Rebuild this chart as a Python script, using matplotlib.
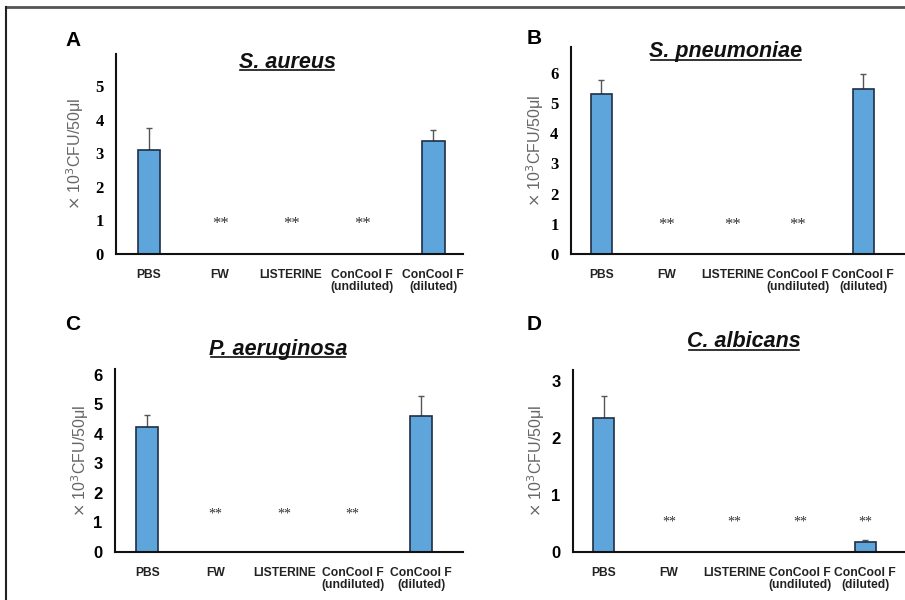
import numpy as np
import matplotlib
matplotlib.use("Agg")
import matplotlib.pyplot as plt
from matplotlib.lines import Line2D

# --- data ---
categories = ["PBS", "FW", "LISTERINE", "ConCool F\n(undiluted)", "ConCool F\n(diluted)"]

aureus_mean = [3.1, 0, 0, 0, 3.35]
aureus_err = [0.65, 0, 0, 0, 0.35]
aureus_star = [1, 2, 3]

pneumo_mean = [5.3, 0, 0, 0, 5.45]
pneumo_err = [0.45, 0, 0, 0, 0.5]
pneumo_star = [1, 2, 3]

aerug_mean = [4.25, 0, 0, 0, 4.6]
aerug_err = [0.4, 0, 0, 0, 0.7]
aerug_star = [1, 2, 3]

albic_mean = [2.36, 0, 0, 0, 0.17]
albic_err = [0.38, 0, 0, 0, 0.04]
albic_star = [1, 2, 3, 4]

W, H = 905, 600
BAR = "#5DA5DA"
EDGE = "#1F2F45"

fig = plt.figure(figsize=(W / 100, H / 100), dpi=100)


def px_axes(left, top, right, bottom):
    return fig.add_axes([left / W, 1 - bottom / H, (right - left) / W, (bottom - top) / H])


def panel(box, mean, err, stars, star_y, star_size, ylim, xlim, yticks, tickfont, title, tpos,
          letter, lpos, ylab_x):
    ax = px_axes(*box)
    x = np.arange(len(categories))
    ax.bar(x, mean, width=0.32, color=BAR, edgecolor=EDGE, linewidth=1.2, zorder=2)
    for xi, m, e in zip(x, mean, err):
        if m > 0:
            ax.errorbar(xi, m, yerr=[[0], [e]], fmt="none", ecolor="#555555",
                        elinewidth=1, capsize=2, capthick=1, zorder=1)
    for s in stars:
        ax.text(s, star_y, "**", ha="center", va="center", fontsize=star_size,
                family="Liberation Serif", color="#333333")
    ax.set_xlim(*xlim)
    ax.set_ylim(*ylim)
    ax.set_yticks(yticks)
    ax.set_yticklabels([str(t) for t in yticks], fontsize=12, fontweight="bold", family=tickfont)
    ax.set_xticks(x)
    ax.set_xticklabels(categories, fontsize=8.7, fontweight="bold", family="Liberation Sans",
                       color="#222222", linespacing=1.0)
    ax.tick_params(axis="both", length=0)
    ax.tick_params(axis="y", pad=9)
    ax.tick_params(axis="x", pad=11)
    for s in ["top", "right"]:
        ax.spines[s].set_visible(False)
    for s in ["left", "bottom"]:
        ax.spines[s].set_linewidth(1.5)
        ax.spines[s].set_color("#111111")
    ax.set_facecolor("none")

    # y label placed in figure pixels
    fig.text(ylab_x / W, 1 - (box[1] + box[3]) / 2 / H, r"$\times$ 10$^3$CFU/50μl",
             rotation=90, ha="center", va="center", fontsize=11.5, color="#666666",
             family="Liberation Sans")

    t = fig.text(tpos[0] / W, 1 - tpos[1] / H, title, ha="center", va="center",
                 fontsize=15.5, fontweight="bold", style="italic", family="Liberation Sans",
                 color="#111111")
    fig.text(lpos[0] / W, 1 - lpos[1] / H, letter, ha="left", va="center",
             fontsize=15, fontweight="bold", family="Liberation Sans")
    return t


titles = []
titles.append(panel((116, 54, 463, 254), aureus_mean, aureus_err, aureus_star, 0.9, 12,
                    (0, 5.95), (-0.465, 4.42), [0, 1, 2, 3, 4, 5], "Liberation Serif",
                    "S. aureus", (287, 62), "A", (65, 40), 75))
titles.append(panel((571, 47, 909, 254), pneumo_mean, pneumo_err, pneumo_star, 0.95, 12,
                    (0, 6.85), (-0.46, 4.7), [0, 1, 2, 3, 4, 5, 6], "Liberation Serif",
                    "S. pneumoniae", (726, 52), "B", (527, 39), 535))
titles.append(panel((115, 369, 463, 552), aerug_mean, aerug_err, aerug_star, 1.3, 10,
                    (0, 6.2), (-0.47, 4.61), [0, 1, 2, 3, 4, 5, 6], "Liberation Sans",
                    "P. aeruginosa", (278, 349), "C", (65, 325), 80))
titles.append(panel((573, 370, 909, 552), albic_mean, albic_err, albic_star, 0.53, 10,
                    (0, 3.2), (-0.47, 4.67), [0, 1, 2, 3], "Liberation Sans",
                    "C. albicans", (744, 342), "D", (527, 325), 536))

# underline titles
fig.canvas.draw()
inv = fig.transFigure.inverted()
for t in titles:
    bb = t.get_window_extent()
    (x0, y0), (x1, y1) = inv.transform([(bb.x0, bb.y0), (bb.x1, bb.y1)])
    fig.add_artist(Line2D([x0 + 0.002, x1 - 0.002], [y0 + 0.004, y0 + 0.004],
                          transform=fig.transFigure, color="#111111", lw=1.2))

# outer frame (top and left edges)
fig.add_artist(Line2D([6 / W, 1], [1 - 7 / H, 1 - 7 / H], transform=fig.transFigure,
                      color="#555555", lw=2))
fig.add_artist(Line2D([6 / W, 6 / W], [0, 1 - 7 / H], transform=fig.transFigure,
                      color="#222222", lw=1.5))

fig.savefig("out.png", dpi=100)
